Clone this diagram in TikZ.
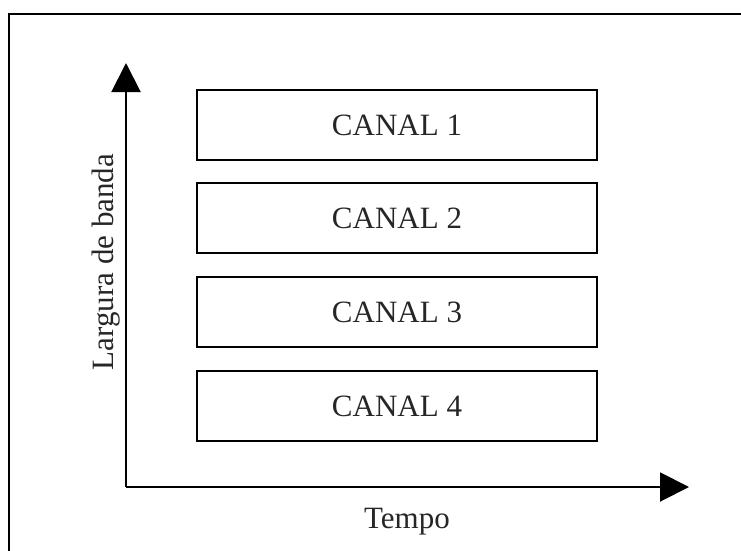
\documentclass[tikz,border=0pt]{standalone}
\usepackage{fontspec}
\setmainfont{Liberation Serif}
\usetikzlibrary{arrows.meta}
\begin{document}
\begin{tikzpicture}[x=1pt,y=-1pt,
  canal/.style={draw=black,line width=2pt,minimum width=400pt,minimum height=70pt,
    inner sep=0pt,anchor=north west,font=\fontsize{31}{37}\selectfont,text=black!85},
  axis/.style={line width=2pt,-{Triangle[width=29pt,length=29pt]}},
  axlabel/.style={font=\fontsize{31}{37}\selectfont,text=black!85,inner sep=0pt}]
  \useasboundingbox (0,0) rectangle (741,551);
  \clip (0,0) rectangle (741,551);
  % outer frame, running off the right and bottom edges
  \draw[line width=2.5pt] (9,14) rectangle (760,570);
  % channel bands
  \node[canal] (c1) at (196,89)  {CANAL 1};
  \node[canal] (c2) at (196,182) {CANAL 2};
  \node[canal] (c3) at (196,276) {CANAL 3};
  \node[canal] (c4) at (196,370) {CANAL 4};
  % axes
  \coordinate (o) at (126,487);
  \coordinate (ytip) at (126,63);
  \coordinate (xtip) at (689,487);
  \draw[axis] (o) -- (ytip);
  \draw[axis] (o) -- (xtip);
  \node[axlabel,anchor=base] (tempo) at (407,528) {Tempo};
  \node[axlabel,anchor=base,rotate=90] (banda) at (113,262) {Largura de banda};
\end{tikzpicture}
\end{document}
